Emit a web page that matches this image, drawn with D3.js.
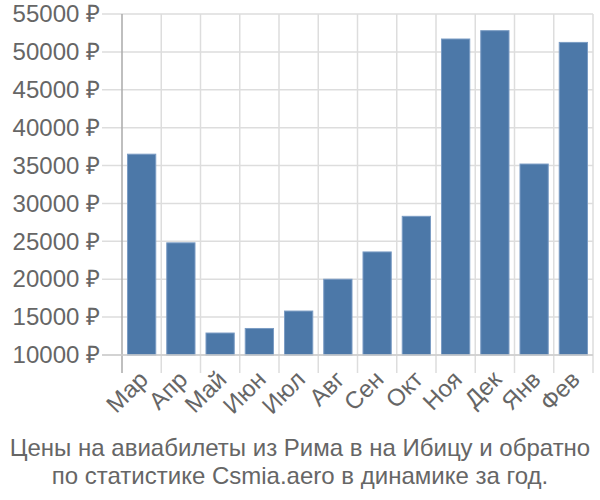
<!DOCTYPE html>
<html><head><meta charset="utf-8">
<script src="https://cdn.jsdelivr.net/npm/d3@7"></script>
<style>body{margin:0;background:#fff;} svg{display:block;font-family:"Liberation Sans",Arial,sans-serif;}</style>
</head><body>
<svg id="c" width="600" height="500"></svg>
<script>
const categories = ["Мар","Апр","Май","Июн","Июл","Авг","Сен","Окт","Ноя","Дек","Янв","Фев"];
const values = [36500,24800,12900,13500,15800,20000,23600,28300,51700,52800,35200,51250];
const yTicks = [10000,15000,20000,25000,30000,35000,40000,45000,50000,55000];
const titleLines = ["Цены на авиабилеты из Рима в на Ибицу и обратно","по статистике Csmia.aero в динамике за год."];

const svg = d3.select("#c");
const mLeft = 122, mRight = 593, mTop = 14, mBottom = 355;
const x = d3.scaleBand().domain(categories).range([mLeft, mRight]).paddingInner(0.28).paddingOuter(0.14);
const xg = d3.scaleBand().domain(categories).range([mLeft, mRight]);
const y = d3.scaleLinear().domain([10000, 55000]).range([mBottom, mTop]);

// horizontal grid
svg.append("g").selectAll("line").data(yTicks).join("line")
  .attr("x1", 102).attr("x2", mRight).attr("y1", d => y(d)).attr("y2", d => y(d))
  .attr("stroke", "#dddddd").attr("stroke-width", 1.5);
// vertical grid
const vx = categories.map(c => xg(c)).concat([mRight]);
svg.append("g").selectAll("line").data(vx).join("line")
  .attr("x1", d => d).attr("x2", d => d).attr("y1", mTop).attr("y2", 373)
  .attr("stroke", (d,i) => i === 0 ? "#aaaaaa" : "#dddddd").attr("stroke-width", 1.5);

// bars
svg.append("g").selectAll("rect").data(values).join("rect")
  .attr("x", (d,i) => x(categories[i]))
  .attr("width", x.bandwidth())
  .attr("y", d => y(d))
  .attr("height", d => y(10000) - y(d))
  .attr("fill", "#4c78a8")
  .attr("stroke", "#7b9cc4").attr("stroke-width", 1);

// bottom axis line
svg.append("line").attr("x1", 102).attr("x2", mRight).attr("y1", mBottom).attr("y2", mBottom)
  .attr("stroke", "#cccccc").attr("stroke-width", 1.5);

// y labels
const yAxis = d3.axisLeft(y).tickValues(yTicks).tickSize(0).tickPadding(0).tickFormat(d => d + " ₽");
const ya = svg.append("g").attr("transform", `translate(100,0)`).call(yAxis);
ya.select(".domain").remove();
ya.selectAll("text").attr("font-size", 24).attr("fill", "#666").attr("font-family", "Liberation Sans, Arial, sans-serif");

// x labels
const xAxis = d3.axisBottom(xg).tickSize(0).tickPadding(0);
const xa = svg.append("g").attr("transform", `translate(0,${mBottom})`).call(xAxis);
xa.select(".domain").remove();
xa.selectAll("text")
  .attr("font-size", 24).attr("fill", "#666").attr("font-family", "Liberation Sans, Arial, sans-serif")
  .attr("text-anchor", "end").attr("dy", "0.35em")
  .attr("transform", "translate(2,20) rotate(-45)");

// title
svg.append("g").selectAll("text").data(titleLines).join("text")
  .attr("x", 300).attr("y", (d,i) => 456 + i*28)
  .attr("text-anchor", "middle").attr("font-size", 24).attr("fill", "#666")
  .text(d => d);
</script>
</body></html>
